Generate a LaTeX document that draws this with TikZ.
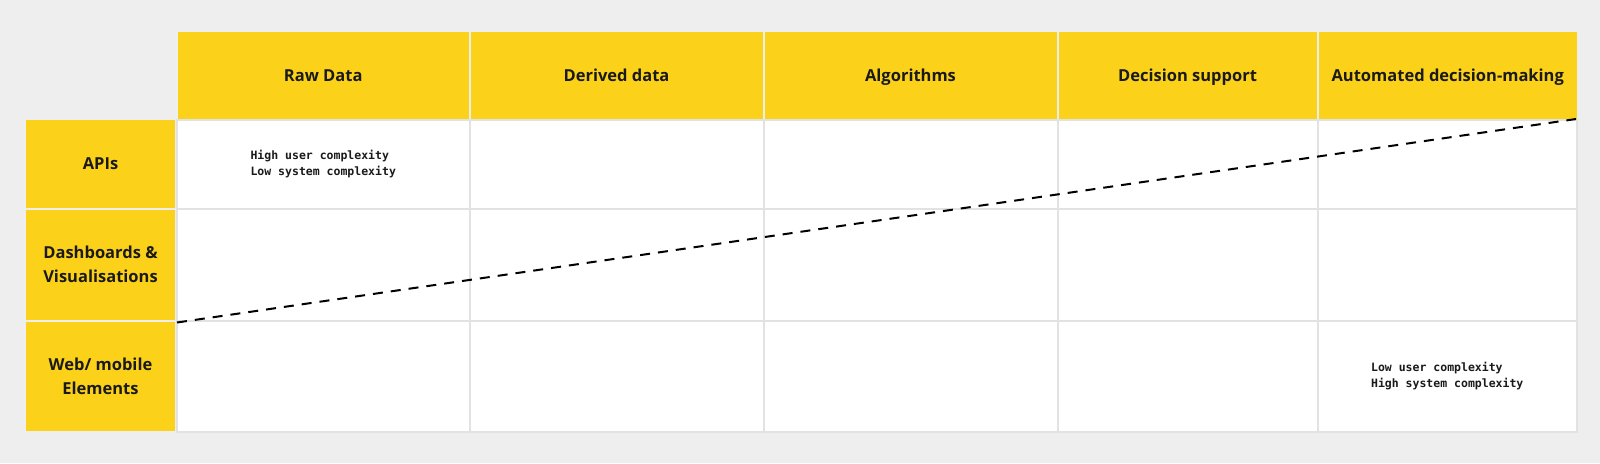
\documentclass[tikz,border=0pt]{standalone}
\usepackage{fontspec}
\setmainfont{Open Sans}
\newfontfamily\monofnt{DejaVu Sans Mono}
\definecolor{bggray}{HTML}{EEEEEE}
\definecolor{hdryellow}{HTML}{FCD119}
\definecolor{gridgray}{HTML}{E2E2E2}
\definecolor{txtdark}{HTML}{1A1A1A}
\tikzset{
  hdr/.style={fill=hdryellow, inner sep=0pt, text=txtdark,
    font=\fontsize{16.5}{23.5}\selectfont\bfseries, align=center},
  hdrone/.style={hdr, text height=11.8pt, text depth=0pt},
  cellbox/.style={fill=white, draw=gridgray, line width=2pt, inner sep=0pt},
  note/.style={font=\monofnt\bfseries\fontsize{11.5}{16}\selectfont, align=left, text=txtdark, inner sep=0pt},
  diag/.style={dash pattern=on 10pt off 8pt, line width=2pt, black}
}
\begin{document}
\begin{tikzpicture}[x=1pt,y=-1pt]
\fill[bggray] (0,0) rectangle (1600,463);
\useasboundingbox (0,0) rectangle (1600,463);
% white cells (columns edges 177, 469.5, 763.5, 1057.5, 1317.5, 1577; rows 119.5, 208.5, 320.5, 431.5)
\foreach \xa/\xb/\c in {177/469.5/1, 469.5/763.5/2, 763.5/1057.5/3, 1057.5/1317.5/4, 1317.5/1577/5}{
  \foreach \ya/\yb/\r in {119.5/208.5/1, 208.5/320.5/2, 320.5/431.5/3}{
    \node[cellbox, minimum width={\xb-\xa}, minimum height={\yb-\ya}] (c\r\c) at ({(\xa+\xb)/2},{(\ya+\yb)/2}) {};
  }
}
% column headers
\node[hdrone, minimum width=291.5, minimum height=86.5] (h1) at (323.25,75.25) {Raw Data};
\node[hdrone, minimum width=292, minimum height=86.5] (h2) at (616.5,75.25) {Derived data};
\node[hdrone, minimum width=292, minimum height=86.5] (h3) at (910.5,75.25) {Algorithms};
\node[hdrone, minimum width=258, minimum height=86.5] (h4) at (1187.5,75.25) {Decision support};
\node[hdrone, minimum width=258.5, minimum height=86.5] (h5) at (1447.75,75.25) {Automated decision-making};
% row headers
\node[hdrone, minimum width=149, minimum height=87.5] (r1) at (100.5,163.75) {APIs};
\node[hdr, minimum width=149, minimum height=110] (r2) at (100.5,264.5) {Dashboards \&\\Visualisations};
\node[hdr, minimum width=149, minimum height=109.5] (r3) at (100.5,376.25) {Web/ mobile\\Elements};
% notes
\node[note] (n1) at (c11.center) {High user complexity\\Low system complexity};
\node[note] (n2) at (c35.center) {Low user complexity\\High system complexity};
% diagonal dashed line
\coordinate (d1) at (177,322.5);
\coordinate (d2) at (1576,119);
\draw[diag] (d1) -- (d2);
\end{tikzpicture}
\end{document}
